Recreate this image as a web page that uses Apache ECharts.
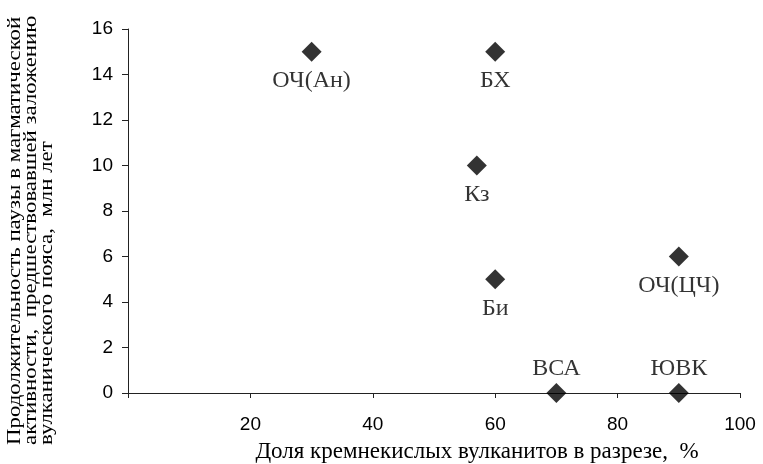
<!DOCTYPE html>
<html><head><meta charset="utf-8">
<script src="https://cdn.jsdelivr.net/npm/echarts@6/dist/echarts.min.js"></script>
<style>html,body{margin:0;padding:0;background:#fff}#c{width:763px;height:464px}</style>
</head><body><div id="c"></div>
<script>
var names = ['ОЧ(Ан)', 'БХ', 'Кз', 'Би', 'ОЧ(ЦЧ)', 'ВСА', 'ЮВК'];
var xValues = [30, 60, 57, 60, 90, 70, 90];
var yValues = [15, 15, 10, 5, 6, 0, 0];
var labelPos = ['bottom', 'bottom', 'bottom', 'bottom', 'bottom', 'top', 'top'];
var xTitle = 'Доля кремнекислых вулканитов в разрезе,  %';
var yTitle = 'Продолжительность паузы в магматической\nактивности,  предшествовавшей заложению\nвулканического пояса,  млн лет';

var data = names.map(function (n, i) {
  return {
    name: n, value: [xValues[i], yValues[i]],
    label: { position: labelPos[i], distance: labelPos[i] === 'top' ? 2 : 7 }
  };
});

var chart = echarts.init(document.getElementById('c'), null, { renderer: 'canvas' });
chart.setOption({
  animation: false,
  backgroundColor: '#fff',
  grid: { left: 128, right: 23, top: 29, bottom: 71, containLabel: false },
  xAxis: {
    type: 'value', min: 0, max: 100, interval: 20,
    splitLine: { show: false },
    axisLine: { show: true, onZero: false, lineStyle: { color: '#222', width: 1 } },
    axisTick: { show: true, inside: false, length: 5, lineStyle: { color: '#222' } },
    axisLabel: {
      color: '#000', fontFamily: 'Liberation Sans, Arial', fontSize: 19, margin: 22,
      formatter: function (v) { return v === 0 ? '' : String(v); }
    }
  },
  yAxis: {
    type: 'value', min: 0, max: 16, interval: 2,
    splitLine: { show: false },
    axisLine: { show: true, lineStyle: { color: '#222', width: 1 } },
    axisTick: { show: true, inside: false, length: 6, lineStyle: { color: '#222' } },
    axisLabel: { color: '#000', fontFamily: 'Liberation Sans, Arial', fontSize: 19, margin: 15 }
  },
  series: [{
    type: 'scatter',
    symbol: 'diamond',
    symbolSize: 20,
    itemStyle: { color: '#000' },
    label: {
      show: true, formatter: '{b}',
      color: '#000', fontFamily: 'Liberation Serif, Times New Roman', fontSize: 24
    },
    data: data
  }],
  graphic: [
    {
      type: 'text', x: 477, y: 452,
      style: {
        text: xTitle, fill: '#000', font: '23px "Liberation Serif"',
        textAlign: 'center', textVerticalAlign: 'middle'
      }
    },
    {
      type: 'text', x: 7, y: 445, rotation: Math.PI / 2, scaleX: 1.27,
      style: {
        text: yTitle, fill: '#000', font: '18px "Liberation Serif"', lineHeight: 16,
        textAlign: 'left', textVerticalAlign: 'top'
      }
    }
  ]
});
</script>
</body></html>
